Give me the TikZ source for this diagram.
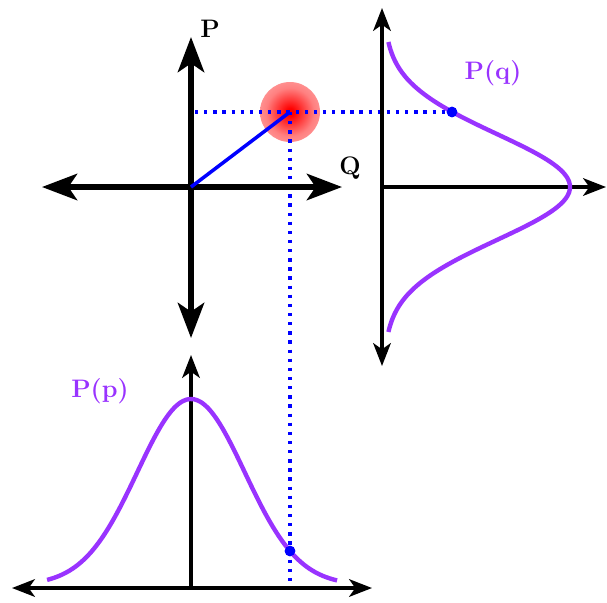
\documentclass[tikz,border=0pt]{standalone}
\usetikzlibrary{arrows.meta}
\definecolor{curvepurple}{RGB}{153,51,255}
\pgfdeclareradialshading{glow}{\pgfpoint{0bp}{0bp}}{color(0bp)=(red); color(3bp)=(red); color(20bp)=(red!50!white); color(50bp)=(red!14!white)}
\tikzset{
  bigaxis/.style={line width=3pt, {Stealth[length=20pt,width=15pt,inset=5pt]}-{Stealth[length=20pt,width=15pt,inset=5pt]}},
  smallaxis/.style={line width=2pt},
  smalltip/.tip={Stealth[length=13pt,width=10pt,inset=3.5pt]},
  guide/.style={blue, line width=1.9pt, dash pattern=on 1.9pt off 3.3pt},
  distr/.style={curvepurple, line width=2.5pt},
  dotmark/.style={circle, fill=blue, inner sep=0pt, minimum size=6pt},
  lbl/.style={font=\Large\bfseries},
}
\begin{document}
\begin{tikzpicture}[x=0.02cm, y=-0.02cm]
\useasboundingbox (0,0) rectangle (607,602);
% coordinates
\coordinate (O) at (191,187);
\coordinate (S) at (290,112);
\coordinate (Hstart) at (195,112);
\coordinate (Vend) at (290,587);
% glow
\shade[shading=glow] (S) circle (30);
% guides
\node[dotmark] (dq) at (452,112) {};
\node[dotmark] (dp) at (290,551) {};
\draw[guide] (Hstart) -- (dq.center);
\draw[guide] (S) -- (Vend);
% main axes
\coordinate (Ql) at (42,187);
\coordinate (Qr) at (342,187);
\coordinate (Pt) at (191,37);
\coordinate (Pb) at (191,338);
\draw[bigaxis] (Ql) -- (Qr);
\draw[bigaxis] (Pb) -- (Pt);
\node[lbl] (Plab) at (210,29) {P};
\node[lbl] (Qlab) at (350,168) {Q};
% right plot axes
\coordinate (Rt) at (382,8);
\coordinate (Rb) at (382,366);
\coordinate (Rl) at (382,187);
\coordinate (Rr) at (606,187);
\draw[smallaxis, smalltip-smalltip] (Rt) -- (Rb);
\draw[smallaxis, -smalltip] (Rl) -- (Rr);
% bottom plot axes
\coordinate (Bl) at (12,588);
\coordinate (Br) at (372,588);
\coordinate (Bb) at (191,588);
\coordinate (Bt) at (191,355);
\draw[smallaxis, smalltip-smalltip] (Bl) -- (Br);
\draw[smallaxis, -smalltip] (Bb) -- (Bt);
% distributions
\draw[distr, domain=-2.736:2.736, samples=80, smooth, variable=\t]
  plot ({384+186*exp(-\t*\t/2)}, {187+53*\t});
\draw[distr, domain=-2.68:2.72, samples=80, smooth, variable=\t]
  plot ({191+53.7*\t}, {585-186*exp(-\t*\t/2)});
\node[lbl, text=curvepurple] (Pq) at (493,73) {P(q)};
\node[lbl, text=curvepurple] (Pp) at (100,391) {P(p)};
% state vector
\draw[blue, line width=2pt] (O) -- (S);
\node[dotmark] at (dq) {};
\node[dotmark] at (dp) {};
\end{tikzpicture}
\end{document}
